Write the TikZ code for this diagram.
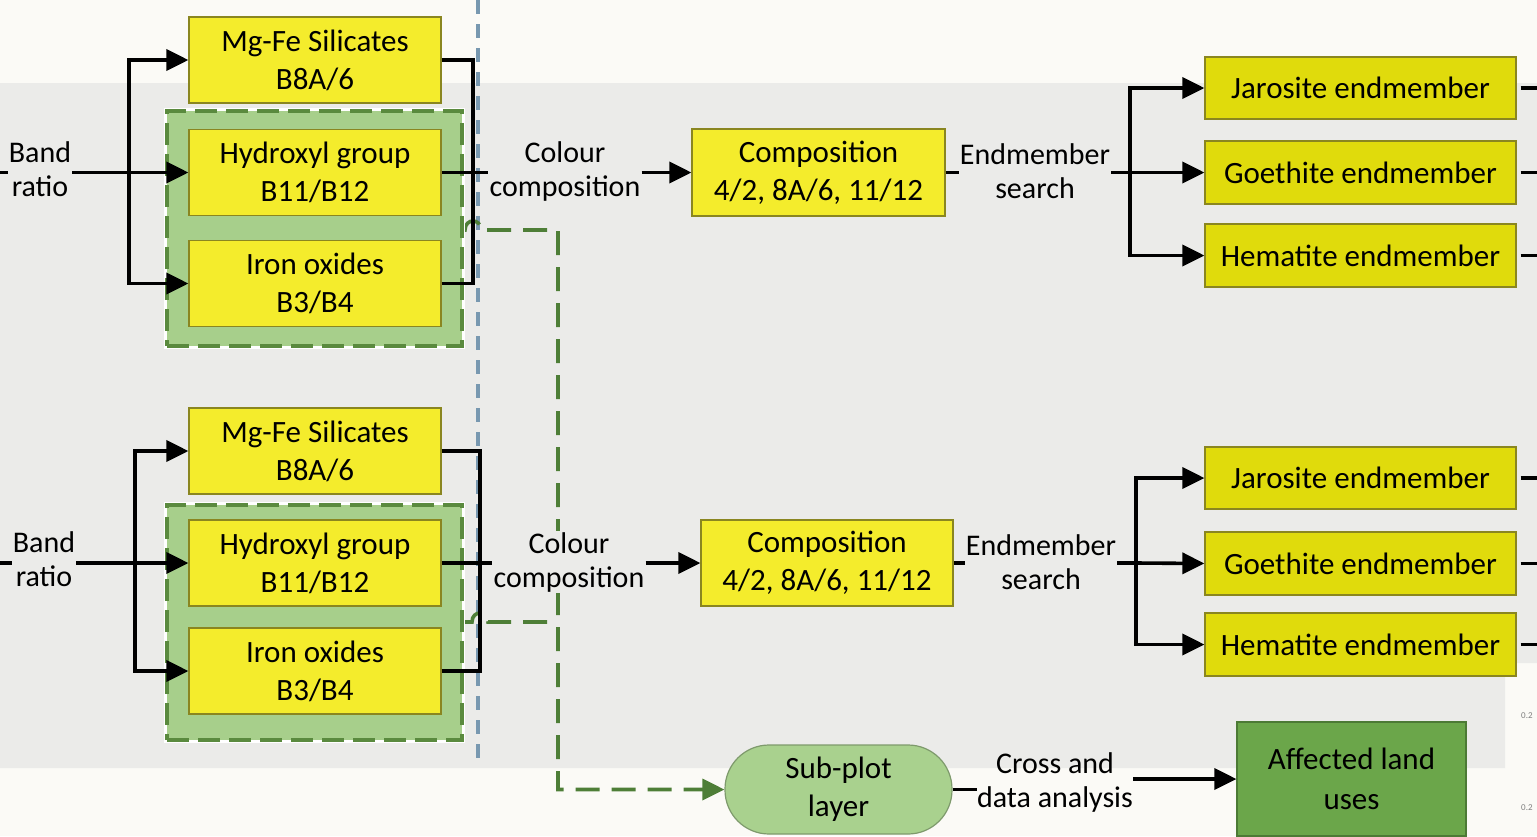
\documentclass[tikz,border=0pt]{standalone}
\usepackage{fontspec}
\setmainfont{Carlito}
\usetikzlibrary{arrows.meta}
\pgfdeclarelayer{bg}
\pgfsetlayers{bg,main}
\definecolor{bgwhite}{HTML}{FBFAF6}
\definecolor{bggray}{HTML}{EBEBE9}
\definecolor{ylw}{HTML}{F4EC2C}
\definecolor{ylwB}{HTML}{E0DB0C}
\definecolor{boxedge}{HTML}{8A8620}
\definecolor{grpfill}{HTML}{A7CF8B}
\definecolor{grpedge}{HTML}{5A8A3E}
\definecolor{gline}{HTML}{4E7E37}
\definecolor{bluedash}{HTML}{7898B0}
\definecolor{subfill}{HTML}{A9D18E}
\definecolor{subedge}{HTML}{7E9A6C}
\definecolor{afffill}{HTML}{6BA64A}
\definecolor{affedge}{HTML}{4C7A35}
\tikzset{
  ybox/.style={draw=boxedge, fill=ylw, line width=1.2pt, minimum width=252pt, minimum height=86pt, inner sep=0pt, align=center, font=\fontsize{31}{38}\selectfont},
  ebox/.style={ybox, fill=ylwB, minimum width=311pt, minimum height=62pt},
  lbl/.style={align=center, inner sep=1pt, fill=bggray, font=\fontsize{30}{34}\selectfont},
  grp/.style={draw=grpedge, fill=grpfill, line width=3.2pt, dash pattern=on 22pt off 9pt, minimum width=295pt, minimum height=235pt, inner sep=0pt,
    preaction={draw=white, line width=6pt, solid}},
  conn/.style={line width=3.6pt, draw=black},
  arr/.style={conn, -{Triangle[length=22pt,width=21pt]}},
  gdash/.style={line width=3.6pt, draw=gline, dash pattern=on 24pt off 12pt},
  bdash/.style={line width=3.6pt, draw=bluedash, dash pattern=on 14pt off 10pt},
}
\begin{document}
\begin{tikzpicture}[x=1pt,y=-1pt]
\useasboundingbox (0,0) rectangle (1537,836);

% ===== top group =====
\node[grp] (grp1) at (314.5,228.5) {};
\node[ybox] (mg1) at (315,60) {Mg-Fe Silicates\\B8A/6};
\node[ybox] (hy1) at (315,172.5) {Hydroxyl group\\B11/B12};
\node[ybox] (io1) at (315,283.5) {Iron oxides\\B3/B4};
\node[lbl] (br1) at (40,169) {Band\\ratio};
\node[lbl] (cc1) at (565,171) {Colour\\composition};
\node[ybox, minimum width=253pt, minimum height=87pt] (co1) at (818.5,172.5) {Composition\\4/2, 8A/6, 11/12};
\node[lbl] (es1) at (1035,171) {Endmember\\search};
\node[ebox] (ja1) at (1360.5,88) {Jarosite endmember};
\node[ebox, minimum height=63pt] (go1) at (1360.5,172.5) {Goethite endmember};
\node[ebox, minimum height=63pt] (he1) at (1360.5,255.5) {Hematite endmember};

\coordinate (l1) at (0,172.5);
\coordinate (b1) at (129,172.5);
\coordinate (m1) at (473,172.5);
\coordinate (b3) at (1130,172.5);
\draw[conn] (l1) -- (l1 -| br1.west);
\draw[conn] (br1.east |- hy1.west) -- (b1);
\draw[arr] (b1) -- (hy1.west);
\draw[arr] (b1) |- (mg1.west);
\draw[arr] (b1) |- (io1.west);
\draw[conn] (mg1.east) -| (m1);
\draw[conn] (io1.east) -| (m1);
\draw[conn] (hy1.east) -- (hy1.east -| cc1.west);
\draw[arr] (cc1.east |- co1.west) -- (co1.west);
\draw[conn] (co1.east) -- (co1.east -| es1.west);
\draw[conn] (es1.east |- co1.east) -- (b3);
\draw[arr] (b3) |- (ja1.west);
\draw[arr] (b3) -- (go1.west);
\draw[arr] (b3) |- (he1.west);
\foreach \n in {ja1,go1,he1}{\draw[conn] ([xshift=4pt]\n.east) -- ++(20,0);}

% ===== bottom group =====
\node[grp] (grp2) at (314.5,622.5) {};
\node[ybox] (mg2) at (315,451) {Mg-Fe Silicates\\B8A/6};
\node[ybox] (hy2) at (315,563) {Hydroxyl group\\B11/B12};
\node[ybox] (io2) at (315,671) {Iron oxides\\B3/B4};
\node[lbl] (br2) at (44,559) {Band\\ratio};
\node[lbl] (cc2) at (569,562) {Colour\\composition};
\node[ybox] (co2) at (827,563) {Composition\\4/2, 8A/6, 11/12};
\node[lbl] (es2) at (1041,562) {Endmember\\search};
\node[ebox] (ja2) at (1360.5,478) {Jarosite endmember};
\node[ebox, minimum height=63pt] (go2) at (1360.5,563.5) {Goethite endmember};
\node[ebox, minimum height=63pt] (he2) at (1360.5,644.5) {Hematite endmember};

\coordinate (l2) at (0,563);
\coordinate (b2) at (135,563);
\coordinate (m2) at (480,563);
\coordinate (b4) at (1136,563);
\draw[conn] (l2) -- (l2 -| br2.west);
\draw[conn] (br2.east |- hy2.west) -- (b2);
\draw[arr] (b2) -- (hy2.west);
\draw[arr] (b2) |- (mg2.west);
\draw[arr] (b2) |- (io2.west);
\draw[conn] (mg2.east) -| (m2);
\draw[conn] (io2.east) -| (m2);
\draw[conn] (hy2.east) -- (hy2.east -| cc2.west);
\draw[arr] (cc2.east |- co2.west) -- (co2.west);
\draw[conn] (co2.east) -- (co2.east -| es2.west);
\draw[conn] (es2.east |- co2.east) -- (b4);
\draw[arr] (b4) |- (ja2.west);
\draw[arr] (b4) -- (go2.west);
\draw[arr] (b4) |- (he2.west);
\foreach \n in {ja2,go2,he2}{\draw[conn] ([xshift=4pt]\n.east) -- ++(20,0);}

% ===== sub-plot and analysis =====
\node[draw=subedge, fill=subfill, line width=1.2pt, minimum width=227pt, minimum height=89pt, rounded corners=44pt, inner sep=0pt, align=center, font=\fontsize{31}{38}\selectfont] (sub) at (838.5,789.5) {Sub-plot\\layer};
\node[align=center, inner sep=0pt, font=\fontsize{30}{34}\selectfont] (cr) at (1055,782) {Cross and\\data analysis};
\node[draw=affedge, fill=afffill, line width=1.2pt, minimum width=229pt, minimum height=114pt, inner sep=0pt, align=center, font=\fontsize{31}{40}\selectfont] (aff) at (1351.5,779) {Affected land\\uses};
\draw[conn] (sub.east) -- (sub.east -| cr.west);
\draw[arr] (cr.east |- aff.west) -- (aff.west);

% cropped tick labels at right edge
\node[anchor=west, inner sep=0pt, font=\fontsize{9}{9}\selectfont, text=gray] (t1) at (1521,716) {0.2};
\node[anchor=west, inner sep=0pt, font=\fontsize{9}{9}\selectfont, text=gray] (t2) at (1521,808) {0.2};

% ===== background layer: fills, separator, green dashed connectors =====
\begin{pgfonlayer}{bg}
\fill[bgwhite] (0,0) rectangle (1537,836);
\fill[bggray] (0,83) -- (1537,83) -- (1537,663) -- (1505,663) -- (1505,768) -- (0,768) -- cycle;
\draw[bdash] (478,0) -- (478,765);
\coordinate (g1) at (462,230);
\coordinate (g2) at (462,622);
\coordinate (gv) at (558,230);
\draw[gdash, -{Triangle[length=22pt,width=21pt]}] (g1) -- (465,230) .. controls (465,218) and (481,218) .. (481,230) -- (gv) |- (sub.west);
\draw[gdash] (g2) -- (472,622) .. controls (472,610) and (488,610) .. (488,622) -- (gv |- g2);
\end{pgfonlayer}
\end{tikzpicture}
\end{document}
